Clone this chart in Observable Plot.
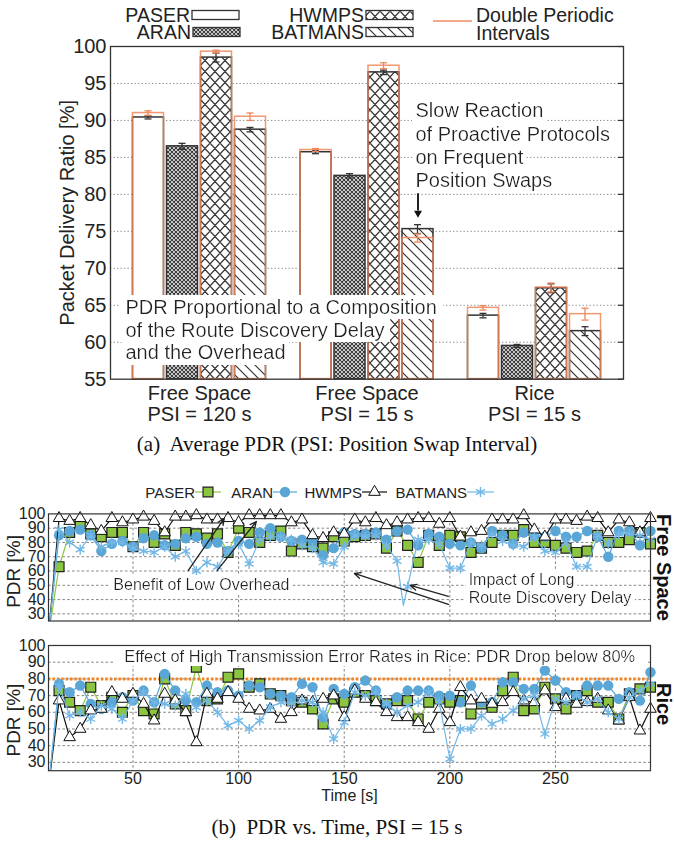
<!DOCTYPE html>
<html><head><meta charset="utf-8">
<script src="https://cdn.jsdelivr.net/npm/d3@7"></script>
<script src="https://cdn.jsdelivr.net/npm/@observablehq/plot@0.6"></script>
<style>
html,body{margin:0;padding:0;background:#fff}
#wrap{position:relative;width:674px;height:844px;overflow:hidden;background:#fff}
.abs{position:absolute;left:0}
.cap{position:absolute;left:0;width:674px;text-align:center;font-family:"Liberation Serif","Times New Roman",serif;font-size:21px;line-height:21px;color:#111;white-space:pre}
</style></head><body><div id="wrap"></div>
<script>
// ---------------- DATA ----------------
const groups = ["Free Space\nPSI = 120 s", "Free Space\nPSI = 15 s", "Rice\nPSI = 15 s"];
const protocols = ["PASER", "ARAN", "HWMPS", "BATMANS"];
const paserMean = [90.4, 85.7, 63.6];
const aranMean = [86.5, 82.5, 59.5];
const hwmpsMean = [98.5, 96.5, 67.3];
const batmansMean = [88.75, 75.3, 61.5];
const paserErr = [0.2, 0.2, 0.3];
const aranErr = [0.4, 0.3, 0.2];
const hwmpsErr = [0.6, 0.3, 0.6];
const batmansErr = [0.3, 0.6, 0.6];
const paserDouble = [91.0, 86.0, 64.65];
const hwmpsDouble = [99.3, 97.4, 67.4];
const batmansDouble = [90.5, 74.1, 63.8];
const paserDoubleErr = [0.3, 0.2, 0.3];
const hwmpsDoubleErr = [0.2, 0.4, 0.6];
const batmansDoubleErr = [0.5, 0.55, 0.8];
const barTicks = [55, 60, 65, 70, 75, 80, 85, 90, 95, 100];

const timeSteps = d3.range(15, 300, 5); // sampling instants of the markers (s)
const fsPaser = [63,87,92,86,84,87,87,77,87,80, 86,78,87,86,83,86,73,90,87,80, 85,88,74,79,77,76,84,81,84,85, 86,76,88,78,66,85,78,85,84,73, 76,80,85,85,89,80,80,78,76,73, 74,85,80,80,82,87,79];
const fsAran = [85,88,89,85,74,79,81,77,83,85, 78,79,83,84,79,80,74,81,79,87, 90,84,81,82,81,71,76,87,86,86, 87,82,88,89,78,86,84,79,78,80, 76,88,85,79,87,85,84,88,84,84, 88,84,70,88,88,78,88];
const fsHwmps = [97,95,97,92,88,97,94,96,98,95, 87,98,98,99,96,96,97,94,99,99, 99,99,94,96,85,83,87,86,96,94, 97,92,94,96,97,97,93,97,84,87, 88,96,96,96,99,89,84,96,96,95, 98,97,87,96,94,87,97];
const fsBatmans = [89,80,75,85,77,80,80,76,74,73, 77,70,74,60,66,63,74,79,65,82, 84,84,82,78,76,66,65,77,85,84, 85,78,67,49,82,82,79,62,62,80, 78,86,81,78,77,84,74,73,80,63, 63,85,79,86,86,85,82];
const fsBatmansDip = [{t: 178, v: 36}];
const riPaser = [73,66,61,75,64,69,60,70,61,59, 80,65,61,87,67,68,81,83,75,77, 71,70,67,66,62,53,68,66,72,70, 67,65,67,67,56,66,68,66,67,59, 65,63,73,81,61,62,75,68,62,70, 73,66,66,56,71,74,75];
const riAran = [77,72,76,65,62,66,69,67,73,66, 83,73,67,66,76,72,73,70,76,75, 71,70,69,77,75,57,74,71,75,79, 73,64,69,73,73,73,70,70,66,76, 66,66,78,78,74,74,85,79,72,70, 76,76,76,68,72,67,84];
const riHwmps = [67,45,50,61,62,72,68,71,65,55, 71,67,60,42,71,68,72,68,62,61, 62,56,60,67,66,68,70,57,73,68, 66,60,57,57,54,50,62,54,75,67, 68,65,66,72,67,66,73,63,68,65, 66,68,61,55,69,49,62];
const riBatmans = [76,58,60,56,64,62,56,67,72,66, 65,64,71,63,67,60,52,55,50,55, 63,66,65,67,66,60,44,54,72,70, 72,65,60,64,66,72,66,32,50,50, 58,53,56,61,68,70,47,68,66,70, 66,68,60,56,69,73,77];
const lineStartPdr = 15;
const pdrTicks = [30, 40, 50, 60, 70, 80, 90, 100];
const timeTicks = [50, 100, 150, 200, 250];
const riceLimit = 80;

// ---------------- SETUP ----------------
const FONT = "Liberation Sans, Arial, Helvetica, sans-serif";
const ORANGE = "#ee8559";
const DARK = "#333";
const wrap = d3.select("#wrap");

const defs = wrap.append("svg").attr("width", 0).attr("height", 0)
  .style("position", "absolute").append("defs");
function pattern(id, w, h, d, sw) {
  const p = defs.append("pattern").attr("id", id).attr("patternUnits", "userSpaceOnUse")
    .attr("width", w).attr("height", h);
  p.append("rect").attr("width", w).attr("height", h).attr("fill", "#fff");
  p.append("path").attr("d", d).attr("stroke", DARK).attr("stroke-width", sw).attr("fill", "none");
}
pattern("pAran", 4, 4, "M0,0L4,4M4,0L0,4M-1,3L1,5M3,-1L5,1M-1,1L1,-1M3,5L5,3", 1.1);
pattern("pHwmps", 10, 11, "M0,0L10,11M10,0L0,11M-1,10L1,12M9,-1L11,1M-1,1L1,-1M9,12L11,10", 1.2);
pattern("pBat", 10, 10, "M-1,-1L11,11M-1,9L1,11M9,-1L11,1", 1.2);
const flt = defs.append("filter").attr("id", "whitebg")
  .attr("x", -0.02).attr("y", -0.03).attr("width", 1.04).attr("height", 1.06);
flt.append("feFlood").attr("flood-color", "white").attr("result", "bg");
const fm = flt.append("feMerge");
fm.append("feMergeNode").attr("in", "bg");
fm.append("feMergeNode").attr("in", "SourceGraphic");

function boxText(svg) {
  svg.querySelectorAll('[aria-description="boxed"] text').forEach(t => t.setAttribute("filter", "url(#whitebg)"));
  return svg;
}
function place(node, top) {
  const d = wrap.append("div").attr("class", "abs").style("top", top + "px");
  d.node().appendChild(node);
}

// ---------------- (a) BAR CHART ----------------
const means = [paserMean, aranMean, hwmpsMean, batmansMean];
const errs = [paserErr, aranErr, hwmpsErr, batmansErr];
const dbls = [paserDouble, null, hwmpsDouble, batmansDouble];
const dblErrs = [paserDoubleErr, null, hwmpsDoubleErr, batmansDoubleErr];
const fills = ["#fff", "url(#pAran)", "url(#pHwmps)", "url(#pBat)"];
const BW = 133, BARW = 31, BSTEP = 34;
const ins = (i, w) => { const c = i * BSTEP + BARW / 2; return {insetLeft: c - w / 2, insetRight: BW - c - w / 2}; };
const off = i => i * BSTEP + BARW / 2 - BW / 2;

const barMarks = [], orangeMarks = [], errMarks = [];
protocols.forEach((p, i) => {
  const rows = groups.map((g, j) => ({group: g, mean: means[i][j], err: errs[i][j],
    dbl: dbls[i] ? dbls[i][j] : null, dErr: dblErrs[i] ? dblErrs[i][j] : null}));
  barMarks.push(Plot.barY(rows, {x: "group", y1: () => 55, y2: "mean", fill: fills[i], stroke: DARK, strokeWidth: 1.5, ...ins(i, BARW)}));
  errMarks.push(Plot.barY(rows, {x: "group", y1: d => d.mean - d.err, y2: d => d.mean + d.err, fill: DARK, ...ins(i, 1.3)}));
  errMarks.push(Plot.tickY(rows, {x: "group", y: d => d.mean - d.err, stroke: DARK, strokeWidth: 1.3, ...ins(i, 7)}));
  errMarks.push(Plot.tickY(rows, {x: "group", y: d => d.mean + d.err, stroke: DARK, strokeWidth: 1.3, ...ins(i, 7)}));
  if (dbls[i]) {
    orangeMarks.push(Plot.barY(rows, {x: "group", y1: () => 55, y2: "dbl", fill: "none", stroke: ORANGE, strokeOpacity: 0.85, strokeWidth: 1.5, ...ins(i, BARW)}));
    errMarks.push(Plot.barY(rows, {x: "group", y1: d => d.dbl - d.dErr, y2: d => d.dbl + d.dErr, fill: ORANGE, ...ins(i, 1.3)}));
    errMarks.push(Plot.tickY(rows, {x: "group", y: d => d.dbl - d.dErr, stroke: ORANGE, strokeWidth: 1.3, ...ins(i, 7)}));
    errMarks.push(Plot.tickY(rows, {x: "group", y: d => d.dbl + d.dErr, stroke: ORANGE, strokeWidth: 1.3, ...ins(i, 7)}));
  }
});

const slowLines = ["Slow Reaction", "of Proactive Protocols", "on Frequent", "Position Swaps"];
const pdrLines = ["PDR Proportional to a Composition", "of the Route Discovery Delay", "and the Overhead"];

const barPlot = Plot.plot({
  width: 674, height: 425, marginTop: 46, marginBottom: 46.3, marginLeft: 110, marginRight: 51,
  style: {fontFamily: FONT, fontSize: "20px", color: "#222", background: "transparent", overflow: "visible"},
  x: {domain: groups, paddingInner: 0.206, paddingOuter: 0.1343, round: false, axis: null},
  y: {domain: [55, 100]},
  marks: [
    Plot.gridY(barTicks.slice(1, -1), {stroke: "#888", strokeOpacity: 1, strokeDasharray: "1.3,2.2"}),
    ...barMarks,
    ...orangeMarks,
    ...errMarks,
    Plot.text(pdrLines, {x: () => groups[0], y: (d, i) => 64.64 - 3.045 * i, text: d => d, dx: -74,
      textAnchor: "start", fontSize: 20, fill: "#222", ariaDescription: "boxed"}),
    Plot.text(slowLines, {x: () => groups[1], y: (d, i) => 91.3 - 3.16 * i, text: d => d, dx: 48.5,
      textAnchor: "start", fontSize: 20, fill: "#222", ariaDescription: "boxed"}),
    Plot.ruleX([0], {x: () => groups[1], y1: () => 80.07, y2: () => 77.74, dx: off(3), stroke: "#222", strokeWidth: 2}),
    Plot.dot([0], {x: () => groups[1], y: () => 77.47, dx: off(3), symbol: "triangle2", rotate: 180, r: 3.8, fill: "#111", stroke: "none"}),
    Plot.axisY(barTicks, {tickSize: 0, tickPadding: 4, fontSize: 20, label: null}),
    Plot.tickY(barTicks, {y: d => d, insetLeft: 508, stroke: DARK, strokeWidth: 1.2}),
    Plot.text(groups, {x: d => d, text: d => d, frameAnchor: "bottom", textAnchor: "middle", lineAnchor: "top", dy: 6, lineHeight: 1.05, fontSize: 20, fill: "#222"}),
    Plot.text(["Packet Delivery Ratio [%]"], {text: d => d, frameAnchor: "left", textAnchor: "middle", lineAnchor: "middle", rotate: -90, dx: -43, fontSize: 20, fill: "#222"}),
    Plot.frame({stroke: DARK, strokeWidth: 1.3})
  ]
});
place(boxText(barPlot), 0);

// ---------------- (b) TIME SERIES ----------------
const styles = [
  {line: "#8dc63f", symbol: "square", fill: "#8cc540", stroke: "#222", r: 5.6, sw: 1.2},
  {line: "#5aa6d6", symbol: "circle", fill: "#5aa6d6", stroke: "none", r: 5.2, sw: 0},
  {line: "#111", symbol: "triangle", fill: "#fff", stroke: "#111", r: 4.3, sw: 1},
  {line: "#72b7e6", symbol: "asterisk", fill: "none", stroke: "#72b7e6", r: 4.8, sw: 1.4}
];
function seriesMarks(list, extras) {
  const m = [];
  list.forEach((vals, i) => {
    const s = styles[i];
    const pts = timeSteps.map((t, k) => ({t, v: vals[k]}));
    const linePts = [{t: 10, v: lineStartPdr}, ...pts, ...(extras[i] || [])].sort((a, b) => a.t - b.t);
    m.push(Plot.line(linePts, {x: "t", y: "v", stroke: s.line, strokeWidth: 1.2, clip: true}));
    m.push(Plot.dot(pts, {x: "t", y: "v", symbol: s.symbol, r: s.r, fill: s.fill, stroke: s.stroke, strokeWidth: s.sw}));
  });
  return m;
}
const panelStyle = {fontFamily: FONT, fontSize: "16px", color: "#222", background: "transparent", overflow: "visible"};
const gridOpts = {stroke: "#777", strokeOpacity: 1, strokeDasharray: "2.6,2.2", strokeWidth: 0.9};
const sideLabel = {frameAnchor: "right", textAnchor: "middle", lineAnchor: "middle", rotate: 90, dx: 13, fontSize: 20, fontWeight: "bold", fill: "#111"};
const pdrLabel = {frameAnchor: "left", textAnchor: "middle", lineAnchor: "middle", rotate: -90, dx: -35, fontSize: 19, fill: "#222"};

const fsPlot = Plot.plot({
  width: 674, height: 122, marginTop: 10.4, marginBottom: 4.5, marginLeft: 48, marginRight: 24,
  style: panelStyle,
  x: {domain: [10, 295], axis: null},
  y: {domain: [25, 100]},
  marks: [
    Plot.gridY(pdrTicks.slice(0, -1), gridOpts),
    Plot.gridX(timeTicks, gridOpts),
    ...seriesMarks([fsPaser, fsAran, fsHwmps, fsBatmans], [null, null, null, fsBatmansDip]),
    Plot.text(["Benefit of Low Overhead"], {text: d => d, x: () => 40.7, y: () => 50.6, textAnchor: "start", fontSize: 16, fill: "#222", ariaDescription: "boxed"}),
    Plot.text(["Impact of Long", "Route Discovery Delay"], {text: d => d, x: () => 208.9, y: (d, i) => i ? 41.0 : 53.9, textAnchor: "start", fontSize: 16, fill: "#222", ariaDescription: "boxed"}),
    Plot.arrow([[76.2, 60.4, 93.2, 96.8], [89.9, 60.4, 108.4, 94.7], [199.3, 42.2, 181.3, 49.9], [199.3, 36.6, 154.8, 58.3]],
      {x1: d => d[0], y1: d => d[1], x2: d => d[2], y2: d => d[3], stroke: "#222", strokeWidth: 1.3, headLength: 8, headAngle: 50}),
    Plot.axisY(pdrTicks, {tickSize: 0, tickPadding: 3, fontSize: 16, label: null}),
    Plot.frame({stroke: DARK, strokeWidth: 1.2}),
    Plot.text(["PDR [%]"], {text: d => d, ...pdrLabel, dy: 4}),
    Plot.text(["Free Space"], {text: d => d, ...sideLabel})
  ]
});
place(boxText(fsPlot), 503);

const riPlot = Plot.plot({
  width: 674, height: 165, marginTop: 10, marginBottom: 29.8, marginLeft: 48, marginRight: 24,
  style: panelStyle,
  x: {domain: [10, 295]},
  y: {domain: [25, 100]},
  marks: [
    Plot.gridY(pdrTicks.slice(0, -1), gridOpts),
    Plot.gridX(timeTicks, gridOpts),
    Plot.ruleY([riceLimit], {stroke: "#f5821f", strokeWidth: 3, strokeDasharray: "2.4,2"}),
    ...seriesMarks([riPaser, riAran, riHwmps, riBatmans], []),
    Plot.text(["Effect of High Transmission Error Rates in Rice: PDR Drop below 80%"], {text: d => d, x: () => 45.9, y: () => 93, textAnchor: "start", fontSize: 16.4, fill: "#222", ariaDescription: "boxed"}),
    Plot.axisY(pdrTicks, {tickSize: 0, tickPadding: 3, fontSize: 16, label: null}),
    Plot.axisX(timeTicks, {tickSize: 0, tickPadding: 1.5, fontSize: 16, label: null}),
    Plot.frame({stroke: DARK, strokeWidth: 1.2}),
    Plot.text(["PDR [%]"], {text: d => d, ...pdrLabel, dy: 12}),
    Plot.text(["Time [s]"], {text: d => d, frameAnchor: "bottom", textAnchor: "middle", lineAnchor: "middle", dy: 25.5, fontSize: 16, fill: "#222"}),
    Plot.text(["Rice"], {text: d => d, ...sideLabel, dy: -4})
  ]
});
place(boxText(riPlot), 635);

// ---------------- LEGENDS & CAPTIONS ----------------
const ov = wrap.append("svg").attr("width", 674).attr("height", 844)
  .style("position", "absolute").style("left", 0).style("top", 0).style("pointer-events", "none");
const lgTop = ov.append("g").attr("font-family", FONT).attr("font-size", 19.5).attr("fill", "#222");
const topPos = [[190, 15], [191, 32], [364, 15], [364, 32]];
protocols.forEach((p, i) => {
  const [x, y] = topPos[i];
  lgTop.append("text").attr("x", x).attr("y", y).attr("text-anchor", "end").attr("dominant-baseline", "central").text(p);
  lgTop.append("rect").attr("x", x + 2).attr("y", y - 4.5).attr("width", 47).attr("height", 9)
    .attr("fill", fills[i]).attr("stroke", DARK).attr("stroke-width", 1.3);
});
lgTop.append("line").attr("x1", 433).attr("x2", 472).attr("y1", 21).attr("y2", 21).attr("stroke", ORANGE).attr("stroke-opacity", 0.7).attr("stroke-width", 2);
lgTop.append("text").attr("x", 476).attr("y", 15).attr("dominant-baseline", "central").text("Double Periodic");
lgTop.append("text").attr("x", 476).attr("y", 33).attr("dominant-baseline", "central").text("Intervals");

const lgB = ov.append("g").attr("font-family", FONT).attr("font-size", 15).attr("fill", "#222");
const botPos = [[195, 221], [273, 297], [362, 387], [467, 494]];
const symMap = {square: d3.symbolSquare, circle: d3.symbolCircle, triangle: d3.symbolTriangle, asterisk: d3.symbolAsterisk};
protocols.forEach((p, i) => {
  const [a, b] = botPos[i], s = styles[i], y = 492;
  lgB.append("text").attr("x", a).attr("y", y).attr("text-anchor", "end").attr("dominant-baseline", "central").text(p);
  lgB.append("line").attr("x1", a).attr("x2", b).attr("y1", y).attr("y2", y).attr("stroke", s.line).attr("stroke-width", 1.2);
  lgB.append("path").attr("transform", `translate(${(a + b) / 2},${y})`)
    .attr("d", d3.symbol(symMap[s.symbol], Math.PI * s.r * s.r)())
    .attr("fill", s.fill).attr("stroke", s.stroke).attr("stroke-width", s.sw);
});

wrap.append("div").attr("class", "cap").style("top", "433.5px").text("(a)  Average PDR (PSI: Position Swap Interval)");
wrap.append("div").attr("class", "cap").style("top", "816.5px").text("(b)  PDR vs. Time, PSI = 15 s");
</script></body></html>
